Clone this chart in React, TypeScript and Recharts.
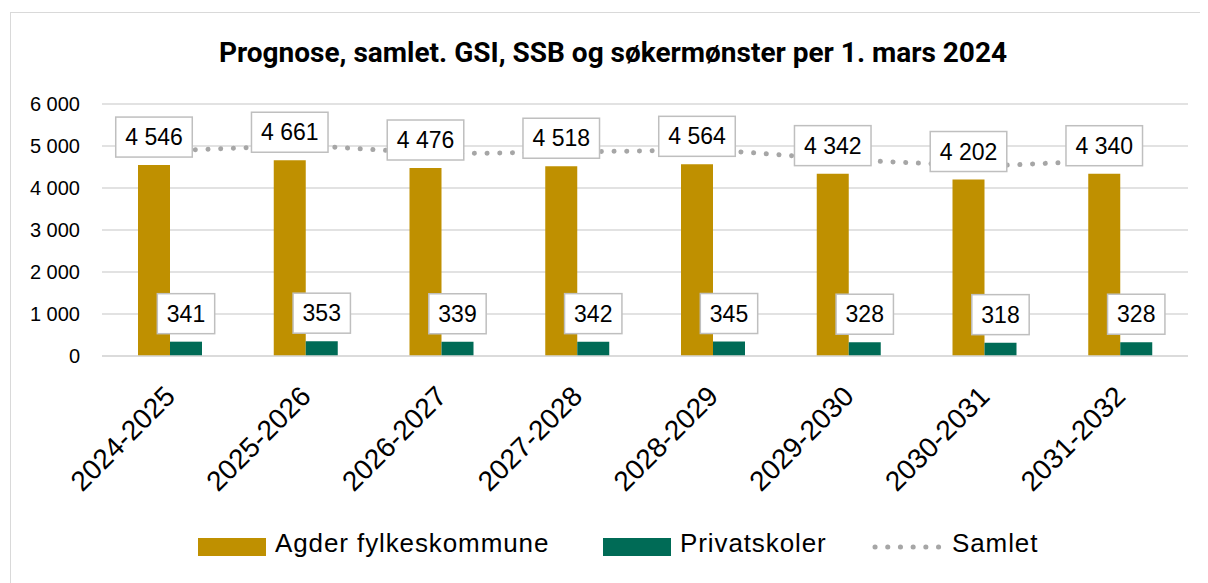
import React from 'react';
import { ComposedChart, Bar, Line, XAxis, YAxis, CartesianGrid, LabelList } from 'recharts';

const categories = ['2024-2025', '2025-2026', '2026-2027', '2027-2028', '2028-2029', '2029-2030', '2030-2031', '2031-2032'];
const agder = [4546, 4661, 4476, 4518, 4564, 4342, 4202, 4340];
const privat = [341, 353, 339, 342, 345, 328, 318, 328];
const samlet = [4887, 5014, 4815, 4860, 4909, 4670, 4520, 4668];
const yTicks = [0, 1000, 2000, 3000, 4000, 5000, 6000];

const GOLD = '#BF9000';
const GREEN = '#006B56';
const DOTS = '#A6A6A6';
const FONT = '"Liberation Sans", Arial, sans-serif';

const data = categories.map((c, i) => ({
  name: c,
  agder: agder[i],
  privat: privat[i],
  samlet: samlet[i],
}));

// "4546" -> "4 546"
const fmt = (v: number) => {
  const s = String(Math.round(v));
  return s.replace(/\B(?=(\d{3})+(?!\d))/g, ' ');
};

function BoxLabel(props: any) {
  const { x, y, width, value } = props;
  const txt = fmt(Number(value));
  const fs = 23;
  let tw = 0;
  for (const ch of txt) tw += ch === ' ' ? fs * 0.278 : fs * 0.556;
  const w = tw + 19;
  const h = 40;
  const cx = Number(x) + Number(width) / 2;
  const top = Number(y) - 8 - h;
  return (
    <g>
      <rect x={cx - w / 2} y={top} width={w} height={h} fill="#fff" stroke="#BFBFBF" strokeWidth={1.5} />
      <text x={cx} y={top + 28} textAnchor="middle" fontSize={fs} fontFamily={FONT} fill="#000">
        {txt}
      </text>
    </g>
  );
}

function XTick(props: any) {
  const { x, y, payload } = props;
  return (
    <g transform={`translate(${x + 7},${y + 42}) rotate(-45)`}>
      <text x={0} y={0} textAnchor="end" fontSize={28} fontFamily={FONT} fill="#000">
        {payload.value}
      </text>
    </g>
  );
}

const legendText: React.CSSProperties = {
  position: 'absolute',
  top: 520,
  fontFamily: FONT,
  fontSize: 26,
  letterSpacing: 0.9,
  lineHeight: '30px',
  color: '#000',
  whiteSpace: 'nowrap',
};

export default function App() {
  return (
    <div style={{ position: 'relative', width: 1200, height: 575 }}>
      <div
        style={{
          position: 'absolute',
          left: 2,
          top: 4,
          width: 1210,
          height: 580,
          border: '1px solid #D9D9D9',
          boxSizing: 'border-box',
        }}
      />
      <div
        style={{
          position: 'absolute',
          left: 0,
          top: 29,
          width: 1210,
          textAlign: 'center',
          fontFamily: 'Roboto, sans-serif',
          fontWeight: 700,
          fontSize: 28,
          lineHeight: '32px',
          color: '#000',
          whiteSpace: 'nowrap',
        }}
      >
        Prognose, samlet. GSI, SSB og søkermønster per 1. mars 2024
      </div>
      <div style={{ position: 'absolute', left: 0, top: 0 }}>
        <ComposedChart
          width={1200}
          height={575}
          data={data}
          margin={{ top: 96, right: 20, left: 0, bottom: 77 }}
          barGap={0}
          barSize={32}
        >
          <CartesianGrid vertical={false} stroke="#D9D9D9" strokeWidth={1.3} />
          <XAxis
            dataKey="name"
            height={150}
            tickSize={0}
            tickMargin={0}
            interval={0}
            axisLine={{ stroke: '#D9D9D9', strokeWidth: 1.5 }}
            tickLine={false}
            tick={<XTick />}
          />
          <YAxis
            width={94}
            domain={[0, 6000]}
            ticks={yTicks}
            tickSize={0}
            tickMargin={22}
            axisLine={false}
            tickLine={false}
            tickFormatter={fmt}
            tick={{ fontSize: 20, fontFamily: FONT, fill: '#000' }}
          />
          <Line
            dataKey="samlet"
            type="linear"
            stroke={DOTS}
            strokeWidth={5}
            strokeDasharray="0.1 12.6"
            strokeLinecap="round"
            dot={false}
            activeDot={false}
            isAnimationActive={false}
          />
          <Bar dataKey="agder" fill={GOLD} isAnimationActive={false}>
            <LabelList dataKey="agder" content={<BoxLabel />} />
          </Bar>
          <Bar dataKey="privat" fill={GREEN} isAnimationActive={false}>
            <LabelList dataKey="privat" content={<BoxLabel />} />
          </Bar>
        </ComposedChart>
      </div>
      {/* legend */}
      <div style={{ position: 'absolute', left: 190, top: 530, width: 68, height: 18, background: GOLD }} />
      <div style={{ ...legendText, left: 267 }}>Agder fylkeskommune</div>
      <div style={{ position: 'absolute', left: 595, top: 530, width: 68, height: 18, background: GREEN }} />
      <div style={{ ...legendText, left: 672 }}>Privatskoler</div>
      <svg style={{ position: 'absolute', left: 862, top: 532 }} width={76} height={14}>
        <line x1={5} y1={7} x2={70} y2={7} stroke={DOTS} strokeWidth={5} strokeDasharray="0.1 12.6" strokeLinecap="round" />
      </svg>
      <div style={{ ...legendText, left: 944 }}>Samlet</div>
    </div>
  );
}
